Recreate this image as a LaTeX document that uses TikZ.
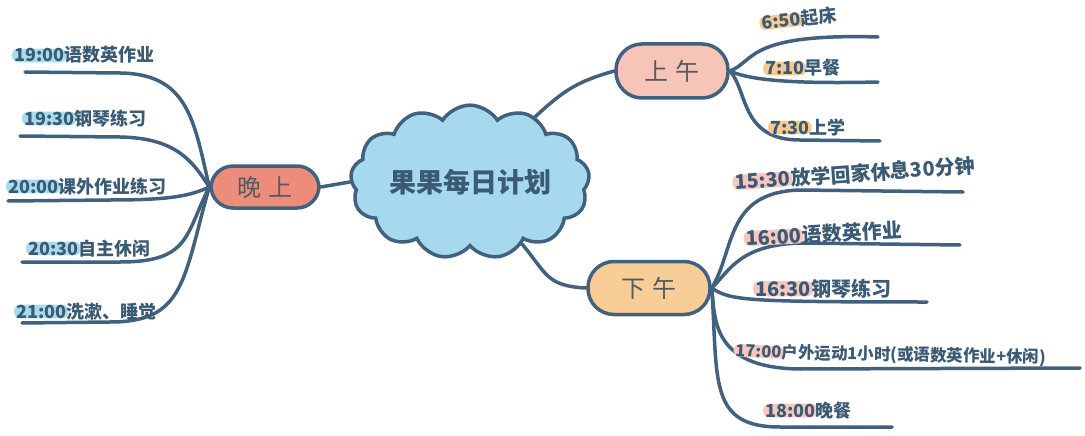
\documentclass[tikz,border=0pt]{standalone}
\usepackage{fontspec}
\newfontfamily\cjk{Noto Sans CJK SC}
\usetikzlibrary{shapes.symbols,shapes.geometric}
\definecolor{ln}{HTML}{41617F}
\definecolor{txt}{HTML}{3B5A74}
\definecolor{cloudc}{HTML}{A6D9EE}
\definecolor{evc}{HTML}{EE8C7C}
\definecolor{amc}{HTML}{F6C5B8}
\definecolor{pmc}{HTML}{F8CD98}
\definecolor{hlb}{HTML}{A8DAF0}
\definecolor{hlo}{HTML}{F7CB90}
\definecolor{hlp}{HTML}{F7C7C0}
\definecolor{topictxt}{HTML}{555A60}
\tikzset{
  br/.style={draw=ln, line width=3.5pt, line cap=round},
  topic/.style={draw=ln, line width=3.5pt, rounded corners=22pt, inner sep=0pt, font=\cjk\fontsize{24}{24}\selectfont, text=topictxt},
  tm/.style={anchor=base west, inner xsep=2pt, inner ysep=0pt, rounded corners=6pt, text=txt, font=\cjk\bfseries\fontsize{18}{18}\selectfont},
  lab/.style={anchor=base west, inner sep=0pt, text=txt, font=\cjk\bfseries\fontsize{18}{18}\selectfont},
  big/.style={font=\cjk\bfseries\fontsize{20}{20}\selectfont},
  small/.style={font=\cjk\bfseries\fontsize{16.5}{16.5}\selectfont},
}
\begin{document}
\begin{tikzpicture}[x=1pt,y=-1pt]
\useasboundingbox (0,0) rectangle (1085,436);
% center
\node[cloud, cloud puffs=13, cloud puff arc=115, aspect=1.8, draw=ln, line width=3.5pt, fill=cloudc, minimum width=232pt, minimum height=130pt, inner sep=0pt, text=txt, font=\cjk\bfseries\fontsize{27}{27}\selectfont] (c) at (470,182) {果果每日计划};
% topics
\node[topic, fill=evc, minimum width=108pt, minimum height=42pt] (ev) at (265,187) {晚\hspace{7pt}上};
\node[topic, fill=amc, minimum width=112pt, minimum height=54pt, rounded corners=26pt] (am) at (672,71) {上\hspace{7pt}午};
\node[topic, fill=pmc, minimum width=122pt, minimum height=53pt, rounded corners=26pt] (pm) at (649,288) {下\hspace{7pt}午};
% main connectors
\draw[br] (ev.east) -- (c.west);
\draw[br] (c.45) .. controls +(30,-28) and +(-35,10) .. (am.west);
\draw[br] (c.-50) .. controls +(25,30) and +(-40,-2) .. (pm.west);
% evening branches
\coordinate (e1) at (25,72);
\coordinate (e2) at (20,136);
\coordinate (e3) at (8,201);
\coordinate (e4) at (22,262);
\coordinate (e5) at (22,323);
\draw[br] (ev.west) .. controls (194,120) and (188,74) .. (120,73) -- (e1);
\draw[br] (ev.west) .. controls (192,160) and (175,138) .. (120,137) -- (e2);
\draw[br] (ev.west) .. controls (190,196) and (170,200) .. (110,200) -- (e3);
\draw[br] (ev.west) .. controls (185,235) and (190,262) .. (120,262) -- (e4);
\draw[br] (ev.west) .. controls (183,280) and (185,322) .. (110,322) -- (e5);
% morning branches
\coordinate (a1) at (878,37);
\coordinate (a2) at (878,82);
\coordinate (a3) at (880,141);
\draw[br] (am.east) .. controls (755,62) and (745,33) .. (a1);
\draw[br] (am.east) .. controls (750,80) and (790,84) .. (a2);
\draw[br] (am.east) .. controls (748,90) and (740,140) .. (800,140) -- (a3);
% afternoon branches
\coordinate (p1) at (963,192);
\coordinate (p2) at (960,245);
\coordinate (p3) at (927,302);
\coordinate (p4) at (1080,368);
\coordinate (p5) at (892,427);
\draw[br] (pm.east) .. controls (735,250) and (725,192) .. (800,190) -- (p1);
\draw[br] (pm.east) .. controls (730,270) and (740,245) .. (800,243) -- (p2);
\draw[br] (pm.east) .. controls (730,300) and (740,302) .. (p3);
\draw[br] (pm.east) .. controls (715,320) and (712,368) .. (800,369) -- (p4);
\draw[br] (pm.east) .. controls (718,380) and (708,427) .. (780,427) -- (p5);
% evening labels
\node[tm, fill=hlb] (e1t) at (12,62) {19:00};
\node[lab] (e1l) at ([xshift=-2pt]e1t.base east) {语数英作业};
\node[tm, fill=hlb] (e2t) at (22,125) {19:30};
\node[lab] (e2l) at ([xshift=-2pt]e2t.base east) {钢琴练习};
\node[tm, fill=hlb] (e3t) at (6,193) {20:00};
\node[lab] (e3l) at ([xshift=-2pt]e3t.base east) {课外作业练习};
\node[tm, fill=hlb] (e4t) at (26,255) {20:30};
\node[lab] (e4l) at ([xshift=-2pt]e4t.base east) {自主休闲};
\node[tm, fill=hlb] (e5t) at (14,318) {21:00};
\node[lab] (e5l) at ([xshift=-2pt]e5t.base east) {洗漱、睡觉};
% morning labels
\node[tm, fill=hlo, rotate=6] (a1t) at (760,30) {6:50};
\node[lab, rotate=6] (a1l) at ([xshift=-2pt]a1t.base east) {起床};
\node[tm, fill=hlo] (a2t) at (763,75) {7:10};
\node[lab] (a2l) at ([xshift=-2pt]a2t.base east) {早餐};
\node[tm, fill=hlo] (a3t) at (768,134) {7:30};
\node[lab] (a3l) at ([xshift=-2pt]a3t.base east) {上学};
% afternoon labels
\node[tm, big, fill=hlp, rotate=4] (p1t) at (733,190) {15:30};
\node[lab, big, rotate=4] (p1l) at ([xshift=-2pt]p1t.base east) {放学回家休息30分钟};
\node[tm, big, fill=hlp, rotate=3] (p2t) at (744,246) {16:00};
\node[lab, big, rotate=3] (p2l) at ([xshift=-2pt]p2t.base east) {语数英作业};
\node[tm, big, fill=hlp] (p3t) at (753,296) {16:30};
\node[lab, big] (p3l) at ([xshift=-2pt]p3t.base east) {钢琴练习};
\node[tm, small, fill=hlp, rotate=-3] (p4t) at (733,356) {17:00};
\node[lab, small, rotate=-1] (p4l) at ([xshift=-2pt]p4t.base east) {户外运动1小时(或语数英作业+休闲)};
\node[tm, fill=hlp] (p5t) at (763,417) {18:00};
\node[lab] (p5l) at ([xshift=-2pt]p5t.base east) {晚餐};
\end{tikzpicture}
\end{document}
